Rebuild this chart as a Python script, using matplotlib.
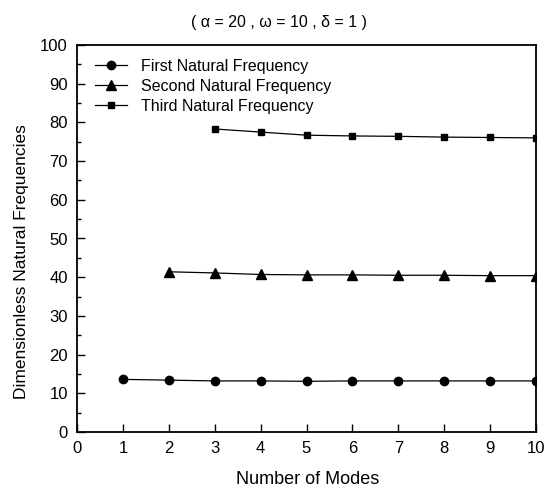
import matplotlib.pyplot as plt
from matplotlib.ticker import MultipleLocator

plt.rcParams["font.family"] = ["Liberation Sans", "DejaVu Sans"]

modes_first = [1, 2, 3, 4, 5, 6, 7, 8, 9, 10]
first_freq = [13.6, 13.4, 13.2, 13.2, 13.1, 13.2, 13.2, 13.2, 13.2, 13.2]

modes_second = [2, 3, 4, 5, 6, 7, 8, 9, 10]
second_freq = [41.4, 41.1, 40.7, 40.6, 40.6, 40.5, 40.5, 40.4, 40.4]

modes_third = [3, 4, 5, 6, 7, 8, 9, 10]
third_freq = [78.3, 77.5, 76.7, 76.5, 76.4, 76.2, 76.1, 76.0]

fig = plt.figure(figsize=(5.56, 4.90), dpi=100)
# axes box: x 77..536 px, y 45..432 px
ax = fig.add_axes([77 / 556, 58 / 490, 459 / 556, 387 / 490])

ax.plot(modes_first, first_freq, "-o", color="black", lw=0.9, ms=6,
        label="First Natural Frequency")
ax.plot(modes_second, second_freq, "-^", color="black", lw=0.9, ms=6.5,
        label="Second Natural Frequency")
ax.plot(modes_third, third_freq, "-s", color="black", lw=0.9, ms=5,
        label="Third Natural Frequency")

ax.set_xlim(0, 10)
ax.set_ylim(0, 100)
ax.xaxis.set_major_locator(MultipleLocator(1))
ax.yaxis.set_major_locator(MultipleLocator(10))
ax.yaxis.set_minor_locator(MultipleLocator(5))
ax.tick_params(axis="both", which="both", direction="in", top=False, right=False,
               labelsize=12, width=1)
ax.tick_params(axis="both", which="major", length=6, pad=6.5)
ax.tick_params(axis="both", which="minor", length=3)
for s in ax.spines.values():
    s.set_linewidth(1.3)

ax.set_xlabel("Number of Modes", fontsize=13)
ax.xaxis.set_label_coords(0.503, -0.1)
ax.set_ylabel("Dimensionless Natural Frequencies", fontsize=12.5)
ax.yaxis.set_label_coords(-0.105, 0.44)

fig.text(279 / 556, 1 - 23 / 490, "( \u03b1 = 20 , \u03c9 = 10 , \u03b4 = 1 )",
         fontsize=11.5, ha="center", va="center")

ax.legend(loc="upper left", bbox_to_anchor=(18 / 459, 0.965), frameon=False,
          fontsize=11.5, handlelength=2.0, handletextpad=0.9, labelspacing=0.32,
          borderaxespad=0.0, borderpad=0.0)

fig.savefig("out.png", dpi=100)
